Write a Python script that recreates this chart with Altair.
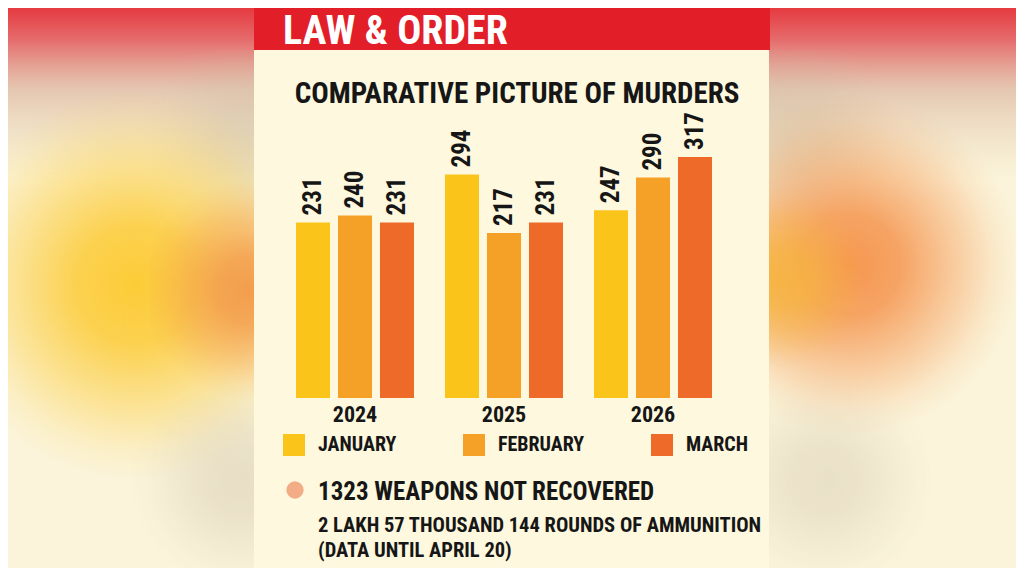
import altair as alt
import pandas as pd

# ---------------- data ----------------
years = ["2024", "2025", "2026"]
months = ["JANUARY", "FEBRUARY", "MARCH"]
january = [231, 294, 247]
february = [240, 217, 290]
march = [231, 231, 317]
month_colors = ["#FBC41B", "#F5A127", "#EE6A29"]

header_text = "LAW & ORDER"
title_text = "COMPARATIVE PICTURE OF MURDERS"
note_main = "1323 WEAPONS NOT RECOVERED"
note_line1 = "2 LAKH 57 THOUSAND 144 ROUNDS OF AMMUNITION"
note_line2 = "(DATA UNTIL APRIL 20)"

rows = []
for i, y in enumerate(years):
    for m, vals in zip(months, [january, february, march]):
        rows.append({"year": y, "month": m, "value": vals[i]})
df = pd.DataFrame(rows)

FONT = "Roboto Condensed, DejaVu Sans Condensed, sans-serif"
INK = "#161616"
one = pd.DataFrame({"k": [0]})

W, H = 1008, 390
PAD_B = 560 - H


def radial(rgb, alpha):
    r, g, b = rgb
    return alt.Gradient(
        gradient="radial",
        stops=[
            alt.GradientStop(color=f"rgba({r},{g},{b},{alpha})", offset=0),
            alt.GradientStop(color=f"rgba({r},{g},{b},{alpha * 0.85})", offset=0.3),
            alt.GradientStop(color=f"rgba({r},{g},{b},{alpha * 0.45})", offset=0.6),
            alt.GradientStop(color=f"rgba({r},{g},{b},{alpha * 0.12})", offset=0.85),
            alt.GradientStop(color=f"rgba({r},{g},{b},0)", offset=1),
        ],
        x1=0.5, y1=0.5, r1=0, x2=0.5, y2=0.5, r2=0.5,
    )


def linear_down(stops):
    return alt.Gradient(
        gradient="linear",
        stops=[alt.GradientStop(color=c, offset=o) for o, c in stops],
        x1=0, y1=0, x2=0, y2=1,
    )


def box(x1, x2, y1, y2, fill):
    return alt.Chart(one).mark_rect(color=fill).encode(
        x=alt.value(x1 - 8), x2=alt.value(x2 - 8),
        y=alt.value(y1 - 8), y2=alt.value(y2 - 8),
    )


# ---------------- background (blurred photo look) ----------------
bg_layers = [
    box(0, 1024, 0, 180, linear_down([
        (0.0, "rgba(228,45,52,1)"),
        (0.22, "rgba(228,95,98,0.92)"),
        (0.5, "rgba(215,170,150,0.6)"),
        (1.0, "rgba(220,205,175,0)"),
    ])),
    box(140, 360, 50, 230, radial((205, 188, 160), 0.45)),
    box(680, 900, 50, 230, radial((205, 188, 160), 0.45)),
    box(-60, 330, 90, 480, radial((252, 203, 55), 1.0)),
    box(150, 350, 180, 400, radial((242, 150, 70), 0.9)),
    box(680, 1020, 95, 435, radial((245, 150, 80), 1.0)),
    box(700, 860, 190, 370, radial((246, 180, 60), 0.85)),
    box(130, 350, 370, 590, radial((210, 200, 175), 0.5)),
    box(720, 930, 370, 590, radial((210, 200, 175), 0.45)),
]

# ---------------- panel ----------------
panel = box(254, 769, 0, 576, "#FDF8DE")
header = box(254, 770, 0, 50, "#E21F28")

header_label = alt.Chart(one).mark_text(
    text=header_text, font=FONT, fontSize=40, fontWeight="bold",
    color="white", align="left", baseline="alphabetic",
).encode(x=alt.value(283 - 8), y=alt.value(44 - 8))

title_label = alt.Chart(one).mark_text(
    text=title_text, font=FONT, fontSize=29, fontWeight="bold",
    color=INK, align="center", baseline="alphabetic",
).encode(x=alt.value(517 - 8), y=alt.value(103 - 8))

# ---------------- bars ----------------
x_enc = alt.X(
    "year:N", sort=years,
    scale=alt.Scale(range=[296 - 8, 712 - 8], paddingInner=0.208, paddingOuter=0),
    axis=alt.Axis(
        title=None, domain=False, ticks=False, grid=False, labelAngle=0,
        labelFont=FONT, labelFontSize=22, labelFontWeight="bold",
        labelColor=INK, labelPadding=6, zindex=1,
    ),
)
xo_enc = alt.XOffset(
    "month:N", sort=months,
    scale=alt.Scale(paddingInner=0.19, paddingOuter=0),
)
y_enc = alt.Y("value:Q", scale=alt.Scale(domain=[0, 317], range=[H, 157 - 8]), axis=None)

bars = alt.Chart(df).mark_bar().encode(
    x=x_enc, xOffset=xo_enc, y=y_enc,
    color=alt.Color(
        "month:N", sort=months,
        scale=alt.Scale(domain=months, range=month_colors),
        legend=alt.Legend(
            title=None, orient="none", legendX=283 - 8, legendY=434 - 8,
            direction="horizontal", symbolType="square", symbolSize=484,
            symbolStrokeWidth=0, symbolOpacity=1,
            labelFont=FONT, labelFontSize=20, labelFontWeight="bold",
            labelColor=INK, labelOffset=13, columnPadding=66,
            labelLimit=300, padding=0, zindex=1,
        ),
    ),
)

values = alt.Chart(df).mark_text(
    angle=270, align="left", baseline="middle", dx=7,
    font=FONT, fontSize=25, fontWeight="bold", color=INK,
).encode(x=x_enc, xOffset=xo_enc, y=y_enc, text="value:Q")

# ---------------- notes ----------------
bullet = alt.Chart(one).mark_point(
    shape="circle", filled=True, size=300, color="#F2AC86", opacity=1,
).encode(x=alt.value(295 - 8), y=alt.value(490 - 8))

note_a = alt.Chart(one).mark_text(
    text=note_main, font=FONT, fontSize=25, fontWeight="bold",
    color=INK, align="left", baseline="alphabetic",
).encode(x=alt.value(318 - 8), y=alt.value(500 - 8))

note_b = alt.Chart(one).mark_text(
    text=note_line1, font=FONT, fontSize=20.5, fontWeight="bold",
    color=INK, align="left", baseline="alphabetic",
).encode(x=alt.value(318 - 8), y=alt.value(532 - 8))

note_c = alt.Chart(one).mark_text(
    text=note_line2, font=FONT, fontSize=20.5, fontWeight="bold",
    color=INK, align="left", baseline="alphabetic",
).encode(x=alt.value(318 - 8), y=alt.value(557 - 8))

chart = alt.layer(
    *bg_layers, panel, header, header_label, title_label,
    bars, values, bullet, note_a, note_b, note_c,
).properties(
    width=W, height=H,
    padding={"left": 0, "top": 0, "right": 0, "bottom": PAD_B},
    autosize=alt.AutoSizeParams(type="none"),
    background="#FBF4DA",
).configure_view(stroke=None)

chart.save("out.html", embed_options={"renderer": "svg", "actions": False})
